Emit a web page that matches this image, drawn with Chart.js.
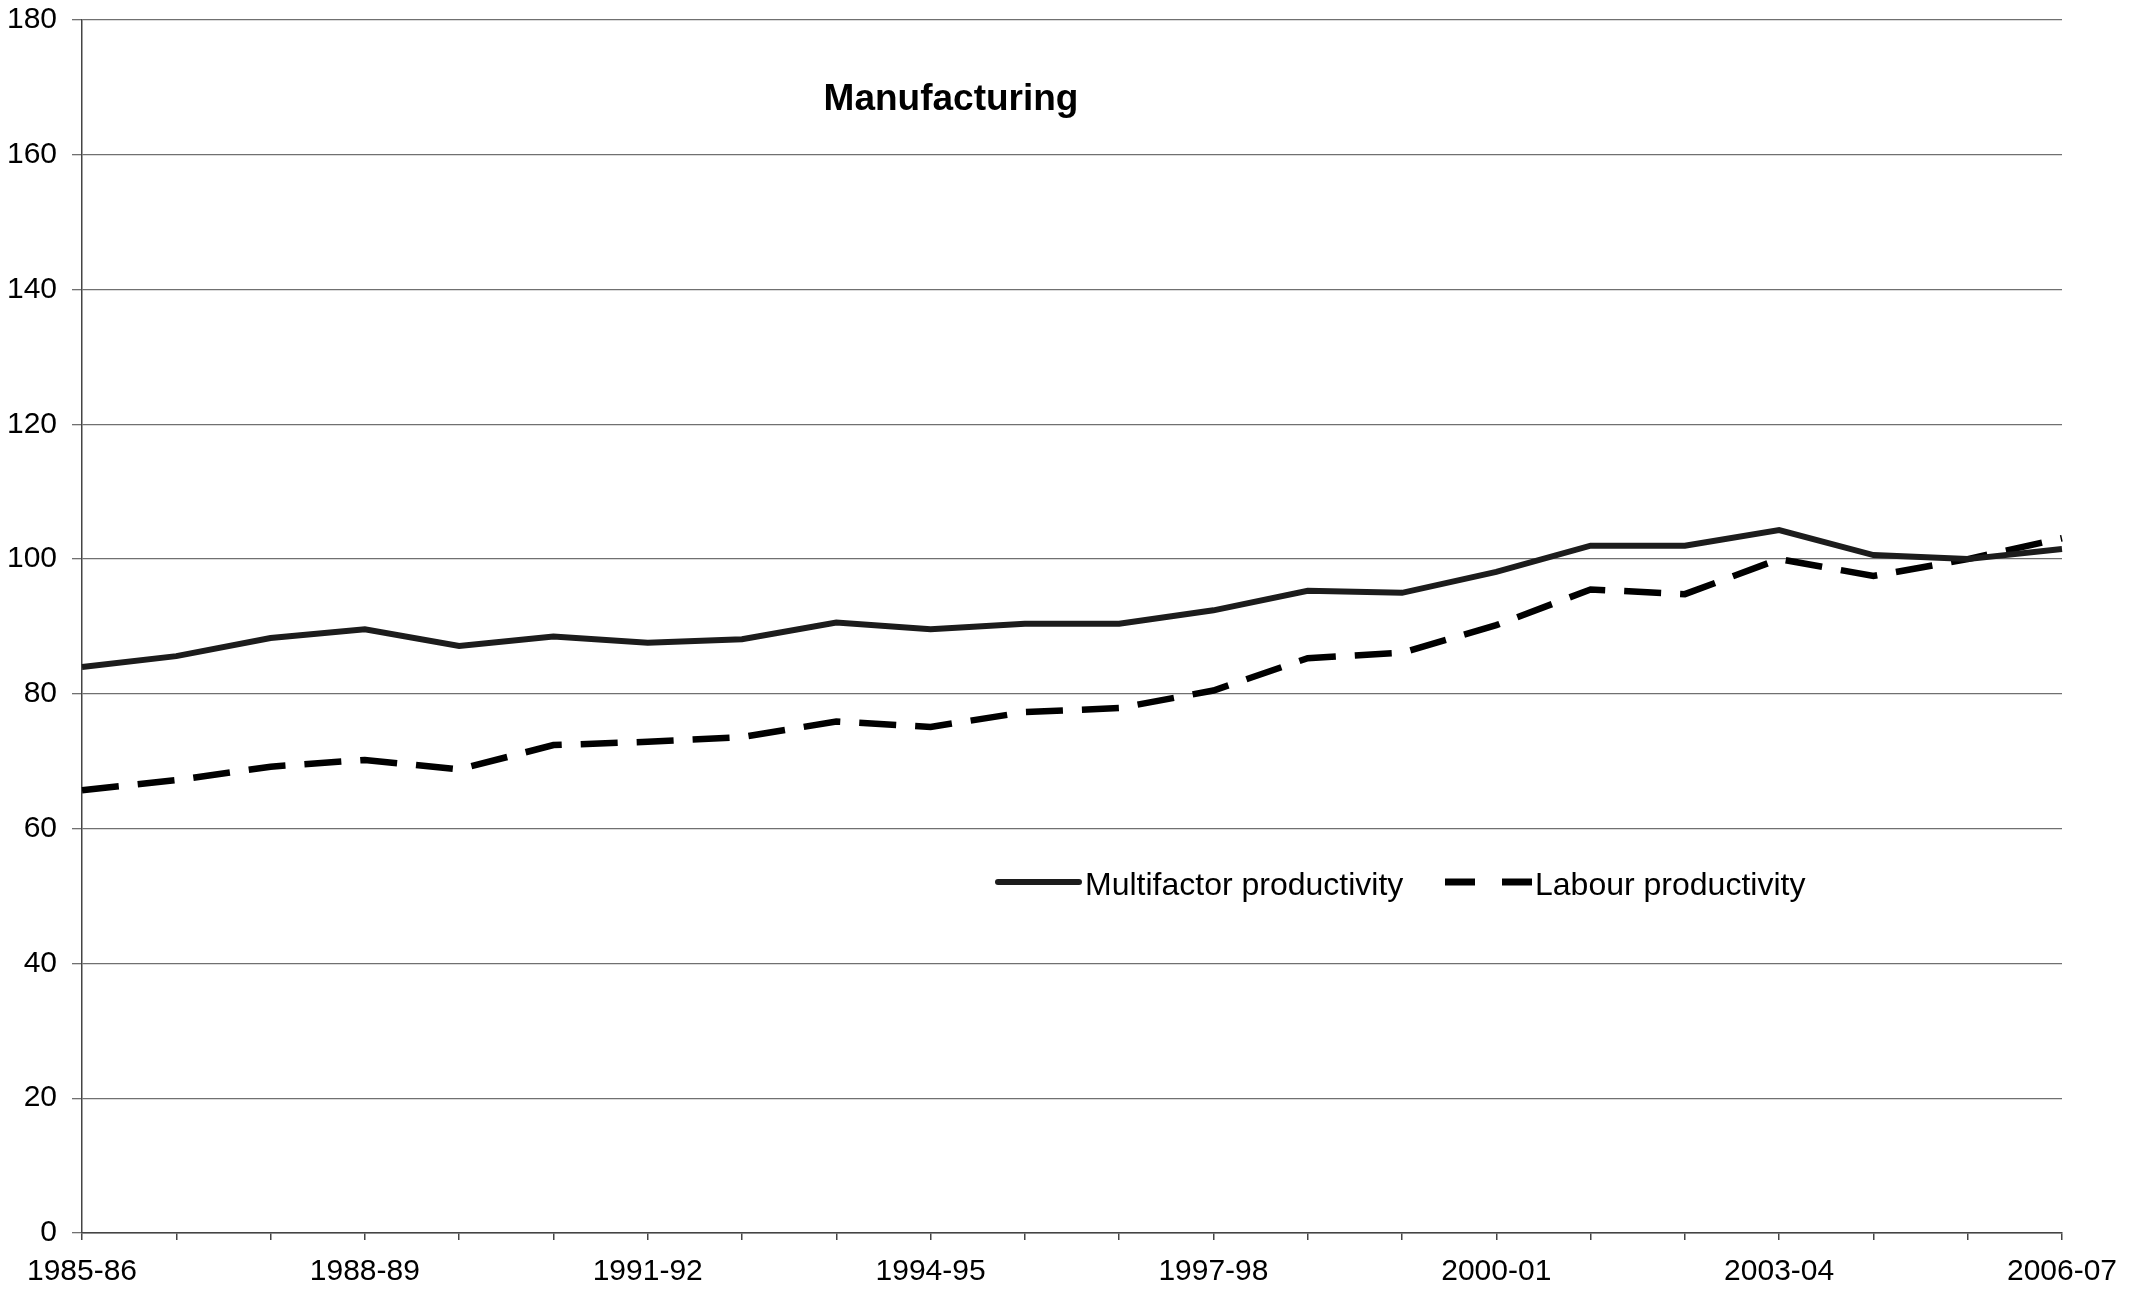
<!DOCTYPE html>
<html>
<head>
<meta charset="utf-8">
<script src="https://cdn.jsdelivr.net/npm/chart.js@4/dist/chart.umd.min.js"></script>
<style>
  html, body { margin: 0; padding: 0; background: #fff; }
  #wrap { width: 2143px; height: 1294px; position: relative; }
</style>
</head>
<body>
<div id="wrap"><canvas id="c" width="2143" height="1294"></canvas></div>
<script>
const categories = ["1985-86","1986-87","1987-88","1988-89","1989-90","1990-91","1991-92","1992-93","1993-94","1994-95","1995-96","1996-97","1997-98","1998-99","1999-00","2000-01","2001-02","2002-03","2003-04","2004-05","2005-06","2006-07"];
const multifactor = [84.0, 85.6, 88.3, 89.6, 87.1, 88.5, 87.6, 88.1, 90.6, 89.6, 90.4, 90.4, 92.4, 95.3, 95.0, 98.1, 102.0, 102.0, 104.3, 100.6, 100.0, 101.5];
const labour = [65.7, 67.2, 69.2, 70.2, 68.8, 72.4, 72.9, 73.6, 75.9, 75.1, 77.3, 77.9, 80.5, 85.3, 86.1, 90.2, 95.5, 94.8, 100.0, 97.5, 100.0, 103.1];
const yTicks = [0, 20, 40, 60, 80, 100, 120, 140, 160, 180];
const seriesNames = ["Multifactor productivity", "Labour productivity"];
const chartTitle = "Manufacturing";

const FONT = "'Liberation Sans', Arial, sans-serif";

const overlay = {
  id: 'overlay',
  afterDatasetsDraw(chart) {
    const ctx = chart.ctx;
    ctx.save();
    // title
    ctx.font = "bold 37px " + FONT;
    ctx.fillStyle = "#000";
    ctx.textAlign = "center";
    ctx.textBaseline = "alphabetic";
    ctx.fillText(chartTitle, 951, 110);
    // legend
    const ds = chart.data.datasets;
    ctx.font = "32px " + FONT;
    ctx.textAlign = "left";
    // solid
    ctx.strokeStyle = ds[0].borderColor;
    ctx.lineWidth = 6;
    ctx.lineCap = "round";
    ctx.setLineDash([]);
    ctx.beginPath();
    ctx.moveTo(998, 882); ctx.lineTo(1079, 882);
    ctx.stroke();
    ctx.fillText(ds[0].label, 1085, 895);
    // dashed
    ctx.strokeStyle = ds[1].borderColor;
    ctx.lineWidth = 7;
    ctx.lineCap = "butt";
    ctx.beginPath();
    ctx.moveTo(1445, 882); ctx.lineTo(1475, 882);
    ctx.moveTo(1502, 882); ctx.lineTo(1532, 882);
    ctx.stroke();
    ctx.fillText(ds[1].label, 1535, 895);
    ctx.restore();
  }
};

new Chart(document.getElementById('c'), {
  type: 'line',
  data: {
    labels: categories,
    datasets: [
      { label: seriesNames[0], data: multifactor, borderColor: '#1c1c1c', borderWidth: 6, pointRadius: 0, tension: 0, fill: false, borderJoinStyle: 'miter' },
      { label: seriesNames[1], data: labour, borderColor: '#000000', borderWidth: 6.5, borderDash: [37, 19], pointRadius: 0, tension: 0, fill: false, borderCapStyle: 'butt' }
    ]
  },
  options: {
    responsive: false,
    animation: false,
    devicePixelRatio: 1,
    layout: { padding: { top: 20, right: 81, left: 0, bottom: 0 } },
    plugins: { legend: { display: false }, title: { display: false }, tooltip: { enabled: false } },
    scales: {
      x: {
        type: 'category',
        offset: false,
        grid: { display: true, drawOnChartArea: false, drawTicks: true, tickLength: 7, color: '#444', lineWidth: 1.5 },
        border: { display: true, color: '#444', width: 1.5 },
        ticks: {
          autoSkip: false, maxRotation: 0, minRotation: 0, padding: 14,
          color: '#000', font: { family: FONT, size: 30 },
          callback: function(v, i) { return i % 3 === 0 ? categories[i] : ''; }
        },
        afterFit(scale) { scale.height = 61; scale.paddingLeft = 0; scale.paddingRight = 0; }
      },
      y: {
        min: 0, max: 180,
        afterBuildTicks(scale) { scale.ticks = yTicks.map(v => ({ value: v })); },
        grid: { color: '#707070', lineWidth: 1.3, tickLength: 10, drawTicks: true },
        border: { display: true, color: '#444', width: 1.5 },
        ticks: { color: '#000', padding: 15, font: { family: FONT, size: 30 } },
        afterFit(scale) { scale.width = 82; scale.paddingTop = 0; scale.paddingBottom = 0; }
      }
    }
  },
  plugins: [overlay]
});
</script>
</body>
</html>
